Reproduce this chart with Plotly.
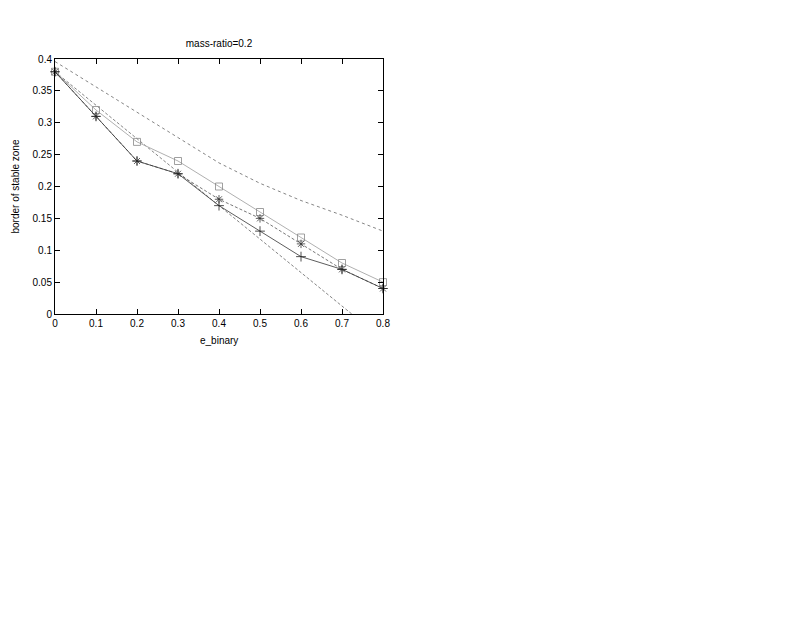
import plotly.graph_objs as go

# e_binary values
e_binary = [0, 0.1, 0.2, 0.3, 0.4, 0.5, 0.6, 0.7, 0.8]

# measured borders (three runs)
border_plus = [0.38, 0.31, 0.24, 0.22, 0.17, 0.13, 0.09, 0.07, 0.04]
border_star = [0.38, 0.31, 0.24, 0.22, 0.18, 0.15, 0.11, 0.07, 0.04]
border_square = [0.38, 0.32, 0.27, 0.24, 0.20, 0.16, 0.12, 0.08, 0.05]

# reference curves
upper_curve = [0.396, 0.356, 0.316, 0.276, 0.237, 0.205, 0.178, 0.155, 0.13]
linear_x = [0, 0.8]
linear_y = [0.38, -0.04]

font_name = "Liberation Sans, Helvetica, Arial"
tick_font = dict(family=font_name, size=10, color="black")

fig = go.Figure()
fig.add_trace(go.Scatter(x=e_binary, y=upper_curve, mode='lines',
                         line=dict(color='#666666', width=0.8, dash='3px,3px')))
fig.add_trace(go.Scatter(x=linear_x, y=linear_y, mode='lines',
                         line=dict(color='#666666', width=0.8, dash='3px,2px')))
fig.add_trace(go.Scatter(x=e_binary, y=border_square, mode='lines+markers', cliponaxis=False,
                         line=dict(color='#b0b0b0', width=1),
                         marker=dict(symbol='square-open', size=7, color='#888888',
                                     line=dict(width=0.8, color='#888888'))))
fig.add_trace(go.Scatter(x=e_binary, y=border_star, mode='lines+markers', cliponaxis=False,
                         line=dict(color='#555555', width=0.8, dash='3px,2px'),
                         marker=dict(symbol='asterisk-open', size=7, color='#333333',
                                     line=dict(width=0.8, color='#333333'))))
fig.add_trace(go.Scatter(x=e_binary, y=border_plus, mode='lines+markers', cliponaxis=False,
                         line=dict(color='#333333', width=0.8),
                         marker=dict(symbol='cross-thin-open', size=7, color='#222222',
                                     line=dict(width=0.8, color='#222222'))))

# page body adds an 8px offset, so margins are shifted to compensate
fig.update_layout(
    width=795, height=634,
    margin=dict(l=47, r=420, t=51, b=328, autoexpand=False),
    paper_bgcolor='white', plot_bgcolor='white',
    showlegend=False,
    font=tick_font,
    title=dict(text='mass-ratio=0.2', x=(47 + 375) / 2 / 795, xanchor='center',
               y=1 - 35 / 634, yanchor='middle', yref='container',
               font=dict(family=font_name, size=10, color='black')),
    annotations=[
        dict(text='e_binary', xref='paper', yref='paper', x=0.5, y=-26 / 255,
             xanchor='center', yanchor='middle', showarrow=False,
             font=dict(family=font_name, size=10, color='black')),
        dict(text='border of stable zone', xref='paper', yref='paper', x=-40 / 328, y=0.5,
             xanchor='center', yanchor='middle', showarrow=False, textangle=-90,
             font=dict(family=font_name, size=10, color='black')),
    ],
)
fig.update_xaxes(range=[0, 0.8], tickvals=e_binary, ticktext=['0', '0.1', '0.2', '0.3', '0.4', '0.5', '0.6', '0.7', '0.8'],
                 ticks='inside', ticklen=5, tickcolor='black', showline=True, linecolor='black',
                 linewidth=1, mirror='ticks', showgrid=False, zeroline=False, automargin=False,
                 tickfont=tick_font)
fig.update_yaxes(range=[0, 0.4], tickvals=[0, 0.05, 0.1, 0.15, 0.2, 0.25, 0.3, 0.35, 0.4],
                 ticktext=['0', '0.05', '0.1', '0.15', '0.2', '0.25', '0.3', '0.35', '0.4'],
                 ticks='inside', ticklen=5, tickcolor='black', showline=True, linecolor='black',
                 linewidth=1, mirror='ticks', showgrid=False, zeroline=False, automargin=False,
                 tickfont=tick_font)

fig.write_html("out.html")
